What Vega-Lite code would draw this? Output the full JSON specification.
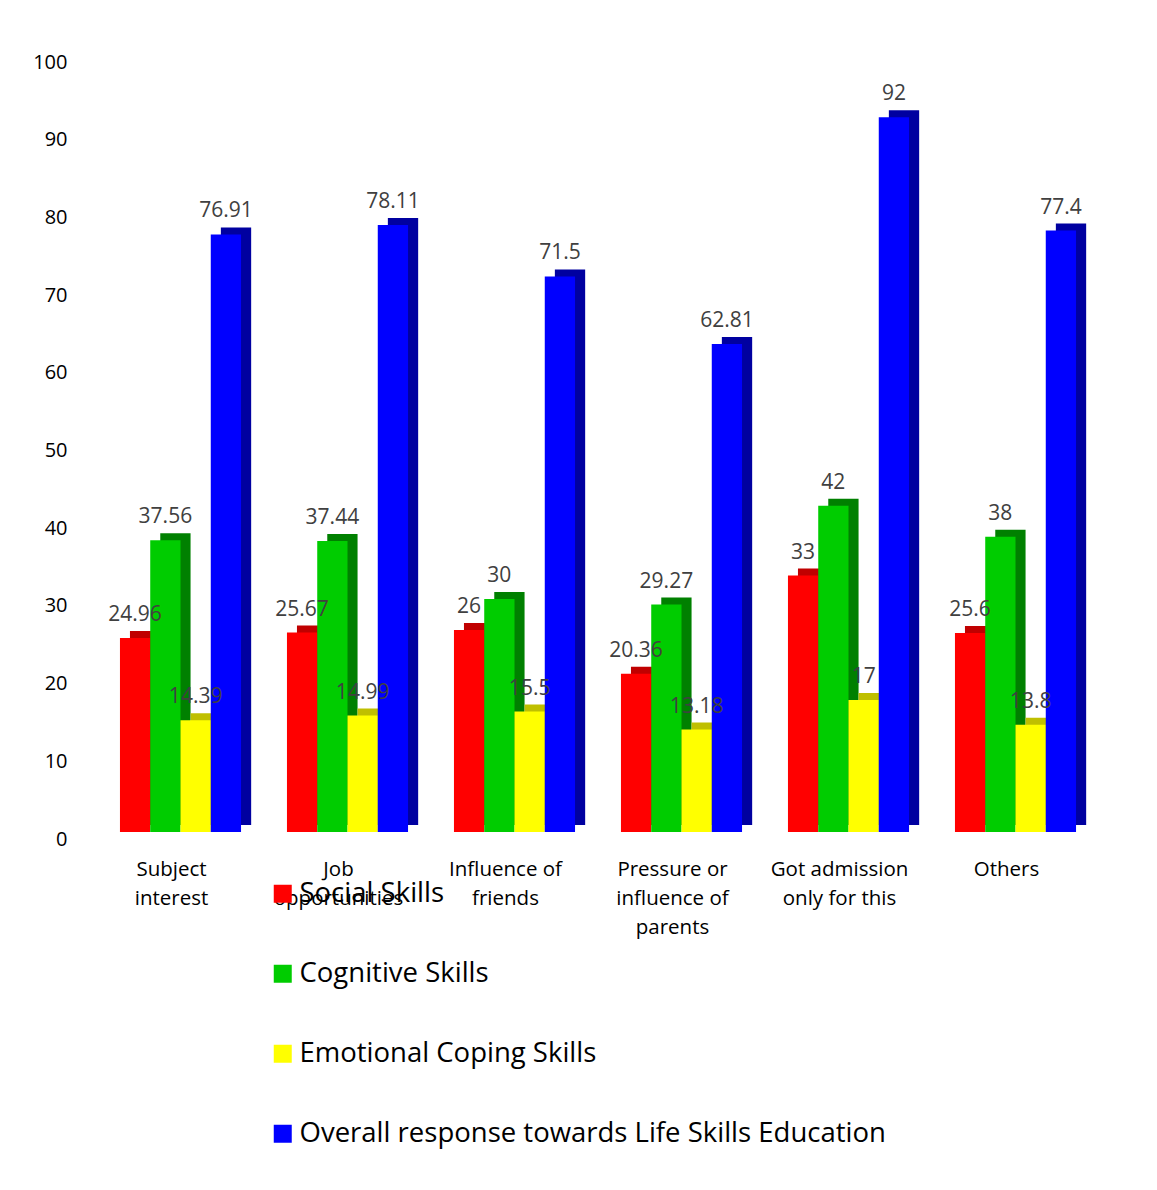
{
  "$schema": "https://vega.github.io/schema/vega-lite/v6.json",
  "autosize": "none",
  "width": 1002,
  "height": 777,
  "padding": {"left": 97, "top": 55, "right": 58, "bottom": 358},
  "background": "white",
  "config": {"view": {"stroke": null}, "font": "Open Sans"},
  "data": {"values": [
    {"reason": "Subject interest", "series": "Social Skills", "value": 24.96},
    {"reason": "Subject interest", "series": "Cognitive Skills", "value": 37.56},
    {"reason": "Subject interest", "series": "Emotional Coping Skills", "value": 14.39},
    {"reason": "Subject interest", "series": "Overall response towards Life Skills Education", "value": 76.91},
    {"reason": "Job opportunities", "series": "Social Skills", "value": 25.67},
    {"reason": "Job opportunities", "series": "Cognitive Skills", "value": 37.44},
    {"reason": "Job opportunities", "series": "Emotional Coping Skills", "value": 14.99},
    {"reason": "Job opportunities", "series": "Overall response towards Life Skills Education", "value": 78.11},
    {"reason": "Influence of friends", "series": "Social Skills", "value": 26},
    {"reason": "Influence of friends", "series": "Cognitive Skills", "value": 30},
    {"reason": "Influence of friends", "series": "Emotional Coping Skills", "value": 15.5},
    {"reason": "Influence of friends", "series": "Overall response towards Life Skills Education", "value": 71.5},
    {"reason": "Pressure or influence of parents", "series": "Social Skills", "value": 20.36},
    {"reason": "Pressure or influence of parents", "series": "Cognitive Skills", "value": 29.27},
    {"reason": "Pressure or influence of parents", "series": "Emotional Coping Skills", "value": 13.18},
    {"reason": "Pressure or influence of parents", "series": "Overall response towards Life Skills Education", "value": 62.81},
    {"reason": "Got admission only for this", "series": "Social Skills", "value": 33},
    {"reason": "Got admission only for this", "series": "Cognitive Skills", "value": 42},
    {"reason": "Got admission only for this", "series": "Emotional Coping Skills", "value": 17},
    {"reason": "Got admission only for this", "series": "Overall response towards Life Skills Education", "value": 92},
    {"reason": "Others", "series": "Social Skills", "value": 25.6},
    {"reason": "Others", "series": "Cognitive Skills", "value": 38},
    {"reason": "Others", "series": "Emotional Coping Skills", "value": 13.8},
    {"reason": "Others", "series": "Overall response towards Life Skills Education", "value": 77.4}
  ]},
  "encoding": {
    "x": {
      "field": "reason", "type": "nominal", "sort": null,
      "scale": {"paddingInner": 0.275, "paddingOuter": 0.1375},
      "axis": {
        "title": null, "domain": false, "ticks": false, "labelAngle": 0,
        "labelFontSize": 20.5, "labelColor": "#000000", "labelPadding": 27,
        "labelLineHeight": 29, "labelBaseline": "top", "labelOffset": -9,
        "labelExpr": "datum.value == 'Subject interest' ? ['Subject', 'interest'] : datum.value == 'Job opportunities' ? ['Job', 'opportunities'] : datum.value == 'Influence of friends' ? ['Influence of', 'friends'] : datum.value == 'Pressure or influence of parents' ? ['Pressure or', 'influence of', 'parents'] : datum.value == 'Got admission only for this' ? ['Got admission', 'only for this'] : datum.value"
      }
    },
    "y": {
      "field": "value", "type": "quantitative",
      "scale": {"domain": [0, 100], "nice": false},
      "axis": {
        "title": null, "domain": false, "ticks": false, "grid": false,
        "values": [0, 10, 20, 30, 40, 50, 60, 70, 80, 90, 100],
        "labelFontSize": 20, "labelColor": "#000000", "labelPadding": 30, "labelOffset": 7
      }
    }
  },
  "layer": [
    {
      "mark": {"type": "bar", "yOffset": -7},
      "encoding": {
        "xOffset": {
          "field": "series", "type": "nominal",
          "sort": ["Social Skills", "Cognitive Skills", "Emotional Coping Skills", "Overall response towards Life Skills Education"],
          "scale": {"paddingInner": 0, "paddingOuter": 0, "range": [10, 131.2]}
        },
        "color": {
          "field": "series", "type": "nominal", "legend": null,
          "scale": {
            "domain": ["Social Skills", "Cognitive Skills", "Emotional Coping Skills", "Overall response towards Life Skills Education"],
            "range": ["#C00000", "#008000", "#BFBF00", "#0000A0"]
          }
        }
      }
    },
    {
      "mark": {"type": "bar"},
      "encoding": {
        "xOffset": {
          "field": "series", "type": "nominal",
          "sort": ["Social Skills", "Cognitive Skills", "Emotional Coping Skills", "Overall response towards Life Skills Education"],
          "scale": {"paddingInner": 0, "paddingOuter": 0}
        },
        "color": {
          "field": "series", "type": "nominal",
          "scale": {
            "domain": ["Social Skills", "Cognitive Skills", "Emotional Coping Skills", "Overall response towards Life Skills Education"],
            "range": ["#FF0000", "#00CC00", "#FFFF00", "#0000FF"]
          },
          "legend": {
            "title": null, "orient": "none", "legendX": 172, "legendY": 825,
            "direction": "vertical", "symbolType": "square", "symbolSize": 324,
            "symbolStrokeWidth": 0, "symbolOpacity": 1,
            "labelFontSize": 27.5, "labelColor": "#000000", "labelLimit": 0,
            "rowPadding": 51, "labelOffset": 3
          }
        }
      }
    },
    {
      "mark": {"type": "text", "fontSize": 21, "color": "#404040", "baseline": "middle", "dy": -23},
      "encoding": {
        "xOffset": {
          "field": "series", "type": "nominal",
          "sort": ["Social Skills", "Cognitive Skills", "Emotional Coping Skills", "Overall response towards Life Skills Education"],
          "scale": {"type": "point", "padding": 0.5}
        },
        "text": {"field": "value", "type": "quantitative"}
      }
    }
  ],
  "resolve": {"scale": {"color": "independent", "xOffset": "independent"}}
}
